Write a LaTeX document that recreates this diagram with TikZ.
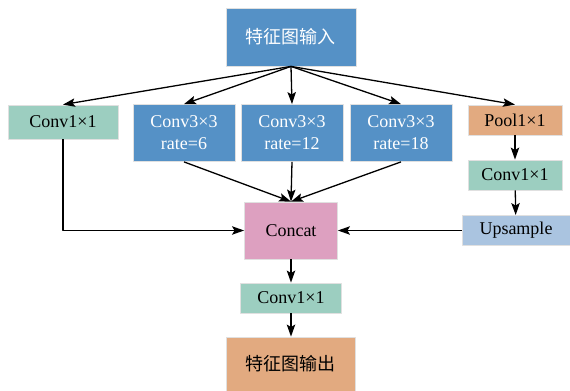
\documentclass[tikz,border=0pt]{standalone}
\usepackage{fontspec}
\setmainfont{Liberation Serif}
\newfontfamily\cjk{Noto Sans CJK SC}
\usetikzlibrary{arrows.meta}
\definecolor{myblue}{RGB}{85,145,198}
\definecolor{myteal}{RGB}{156,206,192}
\definecolor{myorange}{RGB}{226,170,128}
\definecolor{mypink}{RGB}{221,160,192}
\definecolor{mysky}{RGB}{170,196,224}

\begin{document}
\begin{tikzpicture}[
  x=0.5pt, y=-0.5pt,
  line join=round,
  box/.style={draw=black!12, line width=0.4pt, inner sep=1pt, align=center,
    font=\fontsize{9}{11}\selectfont},
  arr/.style={line width=0.65pt, -{Stealth[length=6pt,width=4.2pt,inset=1.2pt]}}
]

% --- Canvas (pixel units) ---
\useasboundingbox (0,0) rectangle (570,391);

% --- Top input ---
\node[box, fill=myblue, text=white, minimum width=65pt, minimum height=29pt]
  (in) at (291,37) {\cjk 特征图输入};

% --- Branches ---
\node[box, fill=myteal, minimum width=55pt, minimum height=17pt]
  (c1) at (63,122) {Conv1×1};
\node[box, fill=myblue, text=white, minimum width=51pt, minimum height=28.5pt]
  (r6) at (184,133) {Conv3×3\\rate=6};
\node[box, fill=myblue, text=white, minimum width=51pt, minimum height=28.5pt]
  (r12) at (292,133) {Conv3×3\\rate=12};
\node[box, fill=myblue, text=white, minimum width=51pt, minimum height=28.5pt]
  (r18) at (401,133) {Conv3×3\\rate=18};
\node[box, fill=myorange, minimum width=47pt, minimum height=15pt]
  (pool) at (515,120) {Pool1×1};
\node[box, fill=myteal, minimum width=47pt, minimum height=15pt]
  (c1b) at (515,175) {Conv1×1};
\node[box, fill=mysky, minimum width=54pt, minimum height=15pt]
  (up) at (516,230.5) {Upsample};

% --- Merge and output ---
\node[box, fill=mypink, minimum width=46.5pt, minimum height=28.5pt]
  (cat) at (291,230.5) {Concat};
\node[box, fill=myteal, minimum width=50.5pt, minimum height=15pt]
  (c1o) at (291,298) {Conv1×1};
\node[box, fill=myorange, minimum width=64.5pt, minimum height=27pt]
  (out) at (291,364) {\cjk 特征图输出};

% --- Connectors ---
\foreach \t in {c1,r6,r12,r18,pool}
  \draw[arr] (in.south) -- (\t.north);
\foreach \t in {r6,r12,r18}
  \draw[arr] (\t.south) -- (cat.north);
\draw[arr] (c1.south) |- (cat.west);
\draw[arr] (pool) -- (c1b);
\draw[arr] (c1b) -- (up);
\draw[arr] (up) -- (cat);
\draw[arr] (cat) -- (c1o);
\draw[arr] (c1o) -- (out);
\end{tikzpicture}
\end{document}
